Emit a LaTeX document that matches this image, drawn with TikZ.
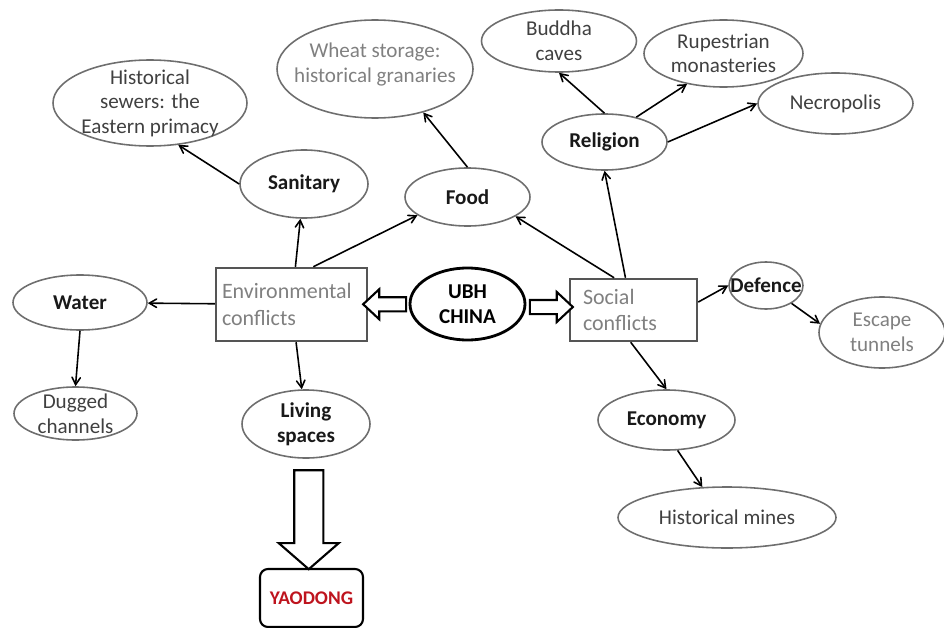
\documentclass[tikz,border=0pt]{standalone}
\usepackage{fontspec}
\setmainfont{Carlito}
\usepackage{tikz}
\usetikzlibrary{shapes,arrows,positioning,calc}
\definecolor{ovalgray}{RGB}{110,110,110}
\definecolor{boxgray}{RGB}{85,85,85}
\definecolor{softtext}{RGB}{128,128,128}
\definecolor{darktext}{RGB}{64,64,64}
\definecolor{yaored}{RGB}{190,20,30}
\tikzstyle{topic} = [ellipse, draw=ovalgray, line width=0.9pt, inner sep=-1cm, align=center, text=black!90, font=\fontsize{12}{14}\selectfont\bfseries]
\tikzstyle{leaf} = [ellipse, draw=ovalgray, line width=0.9pt, inner sep=-1cm, align=center, text=darktext, font=\fontsize{12}{14}\selectfont]
\tikzstyle{conflict} = [rectangle, draw=boxgray, line width=1.4pt, align=left, text=softtext, font=\fontsize{12.5}{15}\selectfont]
\tikzstyle{fatarrow} = [single arrow, draw, fill=white, line width=1.2pt, inner xsep=0pt]
\tikzstyle{line} = [draw, line width=0.9pt, -angle 60]

\begin{document}
\begin{tikzpicture}
		\useasboundingbox (0,0) rectangle (18.88,-12.56);
		% Centre
		\node[ellipse, draw, line width=1.6pt, inner sep=-1cm, minimum width=2.30cm, minimum height=1.44cm, align=center, font=\fontsize{12}{14}\selectfont\bfseries](ubh) at (9.35,-6.08) {UBH\\CHINA};
		\node[conflict, text width=2.78cm, inner xsep=0.12cm, minimum height=1.46cm](env) at (5.83,-6.09) {Environmental\\conflicts};
		\node[conflict, text width=2.02cm, inner xsep=0.26cm, minimum height=1.24cm](social) at (12.67,-6.20) {Social\\conflicts};
		\node[fatarrow, rotate=180, inner ysep=0.12cm, minimum height=0.86cm, single arrow head extend=0.16cm, single arrow tip angle=86](toenv) at ($(env.east)!0.5!(ubh.west)$) {};
		\node[fatarrow, inner ysep=0.12cm, minimum height=0.86cm, single arrow head extend=0.16cm, single arrow tip angle=86](tosocial) at ($(ubh.east)!0.5!(social.west)$) {};
		
		% Environmental side
		\node[topic, above of = ubh, node distance = 2.14cm, minimum width=2.50cm, minimum height=1.16cm](food) {Food};
		\node[leaf, text=softtext, minimum width=3.92cm, minimum height=1.96cm](wheat) at (7.50,-1.38) {Wheat storage:\\historical granaries\\[-7pt]};
		\node[topic, minimum width=2.56cm, minimum height=1.36cm](sanitary) at (6.08,-3.68) {Sanitary};
		\node[leaf, minimum width=3.88cm, minimum height=1.72cm](sewers) at (3.00,-2.06) {Historical\\sewers: the\\Eastern primacy};
		\node[topic, minimum width=2.68cm, minimum height=1.10cm](water) at (1.60,-6.05) {Water};
		\node[leaf, minimum width=2.46cm, minimum height=1.06cm](dugged) at (1.51,-8.27) {Dugged\\channels};
		\node[topic, minimum width=2.56cm, minimum height=1.36cm](living) at (6.12,-8.48) {Living\\spaces};
		\node[rectangle, rounded corners=0.16cm, draw, line width=1.2pt, minimum width=2.06cm, minimum height=1.16cm, text=yaored, font=\fontsize{11}{13}\selectfont\bfseries](yaodong) at (6.23,-11.96) {YAODONG};
		\node[fatarrow, rotate=-90, inner ysep=0.27cm, minimum height=1.98cm, single arrow head extend=0.31cm, single arrow tip angle=98](toyaodong) at ($(living.south)!0.5!(yaodong.north)$) {};
		
		% Social side
		\node[topic, minimum width=2.50cm, minimum height=1.12cm](religion) at (12.09,-2.84) {Religion};
		\node[leaf, minimum width=3.10cm, minimum height=1.24cm](buddha) at (11.18,-0.82) {Buddha\\caves};
		\node[leaf, minimum width=3.18cm, minimum height=1.34cm](rupestrian) at (14.47,-1.07) {Rupestrian\\monasteries};
		\node[leaf, minimum width=3.10cm, minimum height=1.22cm](necropolis) at (16.71,-2.07) {Necropolis};
		\node[topic, minimum width=1.48cm, minimum height=0.94cm](defence) at (15.32,-5.71) {Defence};
		\node[leaf, text=softtext, minimum width=2.52cm, minimum height=1.42cm](escape) at (17.64,-6.65) {Escape\\tunnels};
		\node[topic, minimum width=2.74cm, minimum height=1.20cm](economy) at (13.33,-8.40) {Economy};
		\node[leaf, minimum width=4.36cm, minimum height=1.22cm](mines) at (14.54,-10.35) {Historical mines};
		
		% Paths
		\path [line] (env) -- (sanitary);
		\path [line] (env.60) -- (food.200);
		\path [line] (env) -- (water);
		\path [line] (env) -- (living);
		\path [line] (sanitary.west) -- (sewers.304);
		\path [line] (food.north) -- (wheat.318);
		\path [line] (water.south) -- (dugged.north);
		\path [line] (social.121) -- (food.338);
		\path [line] (social.104) -- (religion.south);
		\path [line] (social.7) -- (defence.west);
		\path [line] (social.265) -- (economy.north);
		\path [line] (religion.north) -- (buddha.south);
		\path [line] (religion.38) -- (rupestrian.220);
		\path [line] (religion.east) -- (necropolis.west);
		\path [line] (defence.325) -- (escape.172);
		\path [line] (economy.290) -- (mines.129);
		
	\end{tikzpicture}
\end{document}
